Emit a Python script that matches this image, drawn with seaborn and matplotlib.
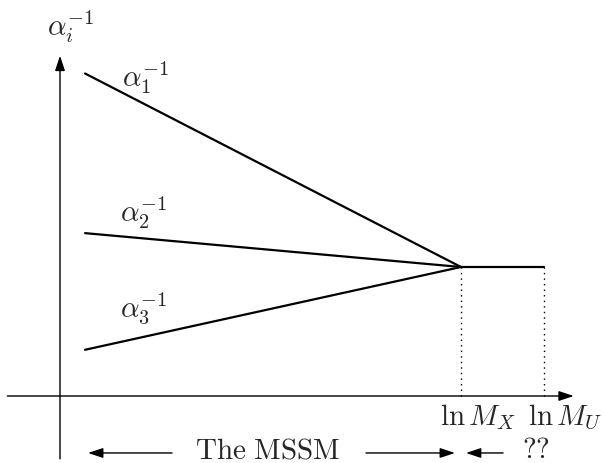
import numpy as np
import pandas as pd
import matplotlib
matplotlib.use('Agg')
import matplotlib.pyplot as plt
import seaborn as sns

sns.set_style('white')
plt.rcParams.update({
    'font.family': ['DejaVu Serif'],
    'mathtext.fontset': 'cm',
    'font.size': 21,
})

# schematic running of the inverse couplings (arbitrary units)
couplings = ['alpha1', 'alpha2', 'alpha3']
coupling_labels = [r'$\alpha_1^{-1}$', r'$\alpha_2^{-1}$', r'$\alpha_3^{-1}$']
x_start = 1.0
ln_MX = 16.0
ln_MU = 19.3
alpha_start = [60.0, 30.3, 8.6]
alpha_X = 24.0

rows = []
for c, a0 in zip(couplings, alpha_start):
    rows.append({'coupling': c, 'lnmu': x_start, 'alpha_inv': a0})
    rows.append({'coupling': c, 'lnmu': ln_MX, 'alpha_inv': alpha_X})
rows.append({'coupling': 'unified', 'lnmu': ln_MX, 'alpha_inv': alpha_X})
rows.append({'coupling': 'unified', 'lnmu': ln_MU, 'alpha_inv': alpha_X})
df = pd.DataFrame(rows)

fig = plt.figure(figsize=(6.04, 4.64), dpi=100)
ax = fig.add_axes([0, 0, 1, 1])

sns.lineplot(data=df, x='lnmu', y='alpha_inv', hue='coupling',
             palette=['black'] * 4, legend=False, linewidth=1.6, ax=ax, sort=False)

# dotted drops to the axis
for xm in [ln_MX, ln_MU]:
    ax.plot([xm, xm], [0, alpha_X], color='black', linestyle=(0, (1, 3)), linewidth=1.0)

# axes with arrow heads
arrow = dict(arrowstyle='-|>,head_length=0.9,head_width=0.3', color='black',
             linewidth=1.0, shrinkA=0, shrinkB=0, mutation_scale=10)
ax.annotate('', xy=(20.5, 0), xytext=(-2.1, 0), arrowprops=arrow)
ax.annotate('', xy=(0, 63.3), xytext=(0, -11.7), arrowprops=arrow)

ax.text(-0.52, 67.2, r'$\alpha_i^{-1}$', ha='left', va='baseline')
label_pos = [(2.47, 57.8), (2.39, 32.6), (2.39, 14.9)]
for lab, (lx, ly) in zip(coupling_labels, label_pos):
    ax.text(lx, ly, lab, ha='left', va='baseline')

ax.text(15.16, -5.2, r'$\ln M_X$', ha='left', va='baseline')
ax.text(18.68, -5.2, r'$\ln M_U$', ha='left', va='baseline')

# region labels
ax.text(5.39, -11.5, r'$\mathrm{The\ MSSM}$', ha='left', va='baseline')
ax.annotate('', xy=(1.12, -10.6), xytext=(4.47, -10.6), arrowprops=arrow)
ax.annotate('', xy=(15.76, -10.6), xytext=(12.21, -10.6), arrowprops=arrow)
ax.annotate('', xy=(16.2, -10.6), xytext=(17.68, -10.6), arrowprops=arrow)
ax.text(18.44, -11.3, r'$\mathrm{??}$', ha='left', va='baseline')

ax.set_xlim(-60 / 25.06, 544 / 25.06)
ax.set_ylim(-67 / 5.375, 397 / 5.375)
ax.set_axis_off()

plt.savefig('out.png', dpi=100)
plt.close()
